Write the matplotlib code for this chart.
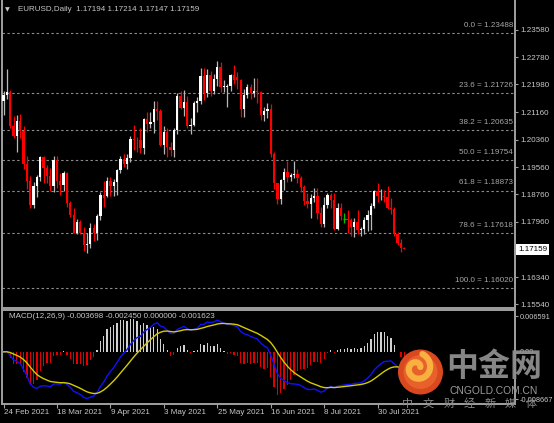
import numpy as np
import matplotlib
matplotlib.use("Agg")
import matplotlib.pyplot as plt
from matplotlib.patches import Circle

# ---------------- data (EURUSD daily) ----------------
opens = [1.2150, 1.2167, 1.2176, 1.2075, 1.2048, 1.2091, 1.2063, 1.1966, 1.1915, 1.1846,
         1.1900, 1.1928, 1.1986, 1.1952, 1.1929, 1.1901, 1.1977, 1.1915, 1.1905, 1.1938,
         1.1850, 1.1815, 1.1763, 1.1794, 1.1764, 1.1728, 1.1730, 1.1778, 1.1762, 1.1813,
         1.1875, 1.1871, 1.1914, 1.1900, 1.1911, 1.1947, 1.1980, 1.1965, 1.1983, 1.2037,
         1.2035, 1.2034, 1.2013, 1.2097, 1.2083, 1.2089, 1.2127, 1.2120, 1.2020, 1.2060,
         1.2016, 1.2005, 1.2066, 1.2164, 1.2130, 1.2148, 1.2075, 1.2080, 1.2143, 1.2150,
         1.2223, 1.2174, 1.2227, 1.2180, 1.2214, 1.2249, 1.2192, 1.2190, 1.2193, 1.2227,
         1.2220, 1.2210, 1.2126, 1.2166, 1.2191, 1.2172, 1.2179, 1.2175, 1.2108, 1.2121,
         1.2125, 1.1995, 1.1908, 1.1863, 1.1917, 1.1941, 1.1926, 1.1933, 1.1937, 1.1924,
         1.1897, 1.1858, 1.1847, 1.1866, 1.1870, 1.1822, 1.1790, 1.1844, 1.1875, 1.1860,
         1.1776, 1.1837, 1.1805, 1.1805, 1.1800, 1.1780, 1.1794, 1.1771, 1.1774, 1.1800,
         1.1817, 1.1843, 1.1887, 1.1870, 1.1872, 1.1867, 1.1835, 1.1832, 1.1761, 1.1734,
         1.17194]
highs = [1.2180, 1.2243, 1.2183, 1.2105, 1.2110, 1.2113, 1.2075, 1.1990, 1.1930, 1.1912,
         1.1933, 1.1990, 1.1990, 1.1962, 1.1952, 1.1989, 1.1990, 1.1938, 1.1944, 1.1942,
         1.1856, 1.1837, 1.1805, 1.1800, 1.1780, 1.1762, 1.1791, 1.1790, 1.1820, 1.1882,
         1.1915, 1.1927, 1.1928, 1.1920, 1.1950, 1.1990, 1.1994, 1.1995, 1.2048, 1.2080,
         1.2043, 1.2070, 1.2100, 1.2116, 1.2117, 1.2150, 1.2150, 1.2125, 1.2077, 1.2070,
         1.2030, 1.2072, 1.2172, 1.2180, 1.2181, 1.2165, 1.2100, 1.2150, 1.2160, 1.2245,
         1.2245, 1.2243, 1.2238, 1.2230, 1.2266, 1.2265, 1.2212, 1.2200, 1.2230, 1.2254,
         1.2235, 1.2215, 1.2185, 1.2200, 1.2200, 1.2216, 1.2218, 1.2180, 1.2132, 1.2145,
         1.2140, 1.2000, 1.1910, 1.1922, 1.1954, 1.1975, 1.1940, 1.1975, 1.1950, 1.1930,
         1.1905, 1.1880, 1.1877, 1.1894, 1.1895, 1.1840, 1.1868, 1.1880, 1.1880, 1.1880,
         1.1850, 1.1852, 1.1822, 1.1830, 1.1808, 1.1807, 1.1830, 1.1780, 1.1810, 1.1830,
         1.1850, 1.1890, 1.1909, 1.1893, 1.1890, 1.1900, 1.1865, 1.1840, 1.1765, 1.1745,
         1.17214]
lows = [1.2109, 1.2155, 1.2072, 1.2040, 1.2000, 1.2040, 1.1950, 1.1893, 1.1835, 1.1836,
        1.1868, 1.1915, 1.1910, 1.1910, 1.1885, 1.1884, 1.1894, 1.1873, 1.1885, 1.1840,
        1.1809, 1.1762, 1.1760, 1.1760, 1.1710, 1.1704, 1.1720, 1.1740, 1.1743, 1.1800,
        1.1840, 1.1867, 1.1870, 1.1870, 1.1875, 1.1940, 1.1957, 1.1950, 1.1970, 1.2005,
        1.2000, 1.1996, 1.1995, 1.2058, 1.2072, 1.2055, 1.2095, 1.2017, 1.1995, 1.1986,
        1.1990, 1.1985, 1.2052, 1.2125, 1.2105, 1.2070, 1.2052, 1.2075, 1.2118, 1.2140,
        1.2152, 1.2160, 1.2165, 1.2170, 1.2195, 1.2175, 1.2175, 1.2133, 1.2180, 1.2200,
        1.2185, 1.2104, 1.2103, 1.2158, 1.2155, 1.2160, 1.2144, 1.2093, 1.2092, 1.2100,
        1.1985, 1.1892, 1.1847, 1.1848, 1.1890, 1.1912, 1.1915, 1.1923, 1.1910, 1.1882,
        1.1845, 1.1835, 1.1807, 1.1855, 1.1805, 1.1782, 1.1782, 1.1835, 1.1837, 1.1772,
        1.1772, 1.1800, 1.1792, 1.1764, 1.1755, 1.1752, 1.1760, 1.1755, 1.1760, 1.1770,
        1.1771, 1.1836, 1.1853, 1.1860, 1.1855, 1.1832, 1.1820, 1.1754, 1.1728, 1.1706,
        1.17147]
closes = [1.2167, 1.2176, 1.2075, 1.2048, 1.2091, 1.2063, 1.1966, 1.1915, 1.1846, 1.1900,
          1.1928, 1.1986, 1.1952, 1.1929, 1.1901, 1.1977, 1.1915, 1.1905, 1.1938, 1.1850,
          1.1815, 1.1763, 1.1794, 1.1764, 1.1728, 1.1730, 1.1778, 1.1762, 1.1813, 1.1875,
          1.1865, 1.1914, 1.1900, 1.1911, 1.1947, 1.1980, 1.1965, 1.1983, 1.2037, 1.2035,
          1.2034, 1.2013, 1.2097, 1.2083, 1.2089, 1.2127, 1.2120, 1.2020, 1.2060, 1.2016,
          1.2005, 1.2066, 1.2164, 1.2130, 1.2148, 1.2075, 1.2080, 1.2143, 1.2150, 1.2223,
          1.2174, 1.2227, 1.2180, 1.2214, 1.2249, 1.2192, 1.2193, 1.2193, 1.2227, 1.2212,
          1.2210, 1.2126, 1.2166, 1.2191, 1.2172, 1.2179, 1.2175, 1.2108, 1.2121, 1.2125,
          1.1995, 1.1908, 1.1863, 1.1917, 1.1941, 1.1926, 1.1933, 1.1937, 1.1924, 1.1897,
          1.1858, 1.1847, 1.1866, 1.1870, 1.1822, 1.1790, 1.1844, 1.1875, 1.1860, 1.1776,
          1.1837, 1.1812, 1.1805, 1.1800, 1.1780, 1.1794, 1.1771, 1.1774, 1.1800, 1.1817,
          1.1843, 1.1887, 1.1870, 1.1872, 1.1867, 1.1835, 1.1832, 1.1761, 1.1734, 1.1718,
          1.17159]

date_tick_bars = [0, 16, 32, 48, 64, 80, 96, 112]
date_tick_labels = ["24 Feb 2021", "18 Mar 2021", "9 Apr 2021", "3 May 2021",
                    "25 May 2021", "16 Jun 2021", "8 Jul 2021", "30 Jul 2021"]

price_ticks = [1.23580, 1.22780, 1.21980, 1.21160, 1.20360, 1.19560, 1.18760, 1.17960,
               1.16340, 1.15540]
price_tick_labels = ["1.23580", "1.22780", "1.21980", "1.21160", "1.20360", "1.19560",
                     "1.18760", "1.17960", "1.16340", "1.15540"]

fib_pcts = ["0.0", "23.6", "38.2", "50.0", "61.8", "78.6", "100.0"]
fib_levels = [1.23488, 1.21726, 1.20635, 1.19754, 1.18873, 1.17618, 1.16020]

macd_ticks = [0.006591, 0.0, -0.008667]
macd_tick_labels = ["0.006591", "0.00", "-0.008667"]

title_text = "EURUSD,Daily  1.17194 1.17214 1.17147 1.17159"
macd_title = "MACD(12,26,9) -0.003698 -0.002450 0.000000 -0.001623"
last_price_label = "1.17159"

# ---------------- styling ----------------
W, H = 554, 423
BG = "#000000"
FG = "#c8c8c8"
BORDER = "#a0a0a0"
FONT = ["Liberation Sans", "DejaVu Sans"]
FS = 5.8
plt.rcParams["font.family"] = FONT

fig = plt.figure(figsize=(W / 100, H / 100), dpi=100, facecolor=BG)

def box(l, t, r, b):
    return [l / W, 1 - b / H, (r - l) / W, (b - t) / H]

ax = fig.add_axes(box(2, 0, 515, 308), facecolor=BG)
axm = fig.add_axes(box(2, 310, 515, 404), facecolor=BG)

x = np.arange(len(closes))
o = np.array(opens); h = np.array(highs); l = np.array(lows); c = np.array(closes)
XL = (-0.45, 153.14)

# ---------------- candles ----------------
up = c > o
dn = c < o
dj = c == o
ax.vlines(x[up], l[up], h[up], color="#b8b8b8", lw=0.9, zorder=3)
ax.vlines(x[dn], l[dn], h[dn], color="#ff0000", lw=0.9, zorder=3)
ax.vlines(x[dj], l[dj], h[dj], color="#00c000", lw=0.9, zorder=3)
bw = 0.68
ax.bar(x[up], np.maximum(c[up] - o[up], 0.00025), bottom=o[up], width=bw,
       color="#ffffff", linewidth=0, zorder=4)
ax.bar(x[dn], np.maximum(o[dn] - c[dn], 0.00025), bottom=c[dn], width=bw,
       color="#ff0000", linewidth=0, zorder=4)
ax.hlines(c[dj], x[dj] - 0.4, x[dj] + 0.4, color="#00c000", lw=0.9, zorder=4)

# fibonacci levels
for pct, lev in zip(fib_pcts, fib_levels):
    ax.axhline(lev, color="#8c8c8c", lw=0.8, ls=(0, (2.2, 2.2)), zorder=1)
    ax.text(152.6, lev + 0.0013, f"{pct} = {lev:.5f}", color="#a8a8a8",
            fontsize=FS, ha="right", va="bottom", zorder=5)

ax.set_xlim(*XL)
ax.set_ylim(1.15433, 1.24455)
ax.set_xticks([])
ax.yaxis.tick_right()
ax.set_yticks(price_ticks)
ax.set_yticklabels(price_tick_labels)
ax.tick_params(axis="y", colors=BORDER, labelcolor=FG, labelsize=FS,
               length=2.5, width=0.8, pad=1.5)
ax.spines["top"].set_visible(False)
for s in ["left", "right", "bottom"]:
    ax.spines[s].set_color(BORDER)
    ax.spines[s].set_linewidth(1.4)

ax.text(0.5, 1.2418, "\u25bc", color=FG, fontsize=4.5, va="center", ha="left",
        family=["DejaVu Sans"])
ax.text(4.2, 1.2418, title_text, color=FG, fontsize=FS, va="center", ha="left")

# current price box
ax.text(1.006, 1.17159, last_price_label, transform=ax.get_yaxis_transform(),
        color="#000000", fontsize=FS, va="center", ha="left", zorder=10,
        bbox=dict(boxstyle="square,pad=0.25", facecolor="#ffffff", edgecolor="none"),
        clip_on=False)

# ---------------- MACD ----------------
def ema(v, n):
    a = 2.0 / (n + 1)
    out = np.empty(len(v))
    out[0] = v[0]
    for i in range(1, len(v)):
        out[i] = a * v[i] + (1 - a) * out[i - 1]
    return out

dif = ema(c, 12) - ema(c, 26)
dea = ema(dif, 9)
hist = 2 * (dif - dea)
hcol = np.where(hist >= 0, "#d0d0d0", "#e00000")
axm.bar(x, hist, width=0.38, color=hcol, linewidth=0, zorder=2)
axm.plot(x, dif, color="#1010ff", lw=1.0, zorder=3)
axm.plot(x, dea, color="#d4cc00", lw=1.0, zorder=3)

axm.set_xlim(*XL)
axm.set_ylim(-0.009586, 0.007694)
axm.yaxis.tick_right()
axm.set_yticks(macd_ticks)
axm.set_yticklabels(macd_tick_labels)
axm.tick_params(axis="y", colors=BORDER, labelcolor=FG, labelsize=5.3,
                length=2.5, width=0.8, pad=1.2)
axm.set_xticks(date_tick_bars)
axm.set_xticklabels([])
axm.tick_params(axis="x", colors=BORDER, length=3, width=0.8)
for t, lab in zip(date_tick_bars, date_tick_labels):
    axm.text(t + 0.1, -0.0112, lab, color=FG, fontsize=FS, ha="left", va="center",
             clip_on=False)
for s in ["left", "right", "bottom", "top"]:
    axm.spines[s].set_color(BORDER)
    axm.spines[s].set_linewidth(1.4)
axm.text(1.5, 0.00655, macd_title, color=FG, fontsize=FS, ha="left", va="center")

# ---------------- watermark (pixel overlay) ----------------
ov = fig.add_axes([0, 0, 1, 1], facecolor="none")
ov.set_xlim(0, W)
ov.set_ylim(H, 0)
ov.axis("off")
ov.add_patch(Circle((420.5, 372), 22.5, facecolor="#d9481f", edgecolor="none", zorder=1))
ov.add_patch(Circle((420.5, 372), 17, facecolor="#e8602a", edgecolor="none", zorder=1))
th = np.linspace(0.3, 2 * np.pi + 1.2, 120)
rr = 3 + 1.6 * th
ov.plot(417 + rr * np.cos(th), 368 - rr * np.sin(th), color="#f8b040", lw=4.5,
        solid_capstyle="round", zorder=2)
ov.text(494, 367, "中金网", color="#8e8e8e", fontsize=23, ha="center", va="center",
        family=["Noto Sans CJK SC"], fontweight="bold", alpha=0.95, zorder=3)
ov.text(494, 390.5, "CNGOLD.COM.CN", color="#9a9a9a", fontsize=7.4, ha="center",
        va="center", family=["Liberation Sans"], zorder=3)
for k, ch in enumerate("中文财经新媒体"):
    ov.text(408 + k * 20.5, 404, ch, color="#8a8a8a", fontsize=8, ha="center",
            va="center", family=["Noto Sans CJK SC"], zorder=3)

fig.savefig("out.png", dpi=100, facecolor=BG)
